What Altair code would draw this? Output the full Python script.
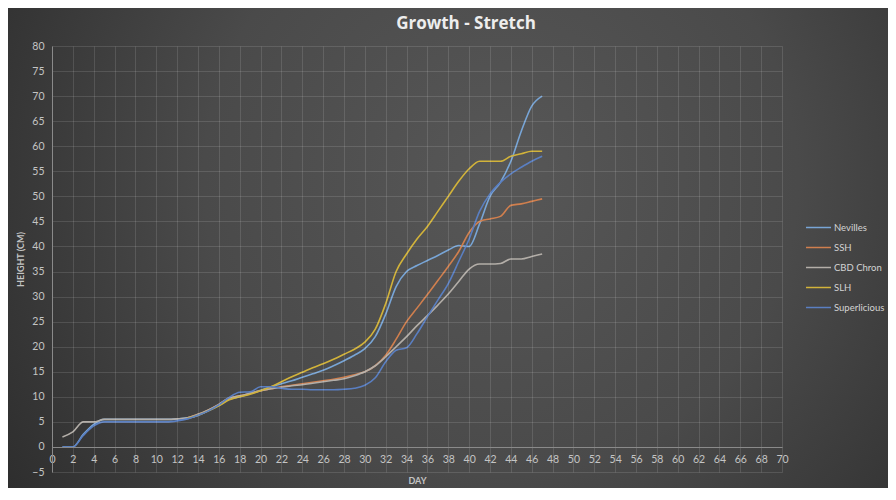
import altair as alt
import pandas as pd

days = list(range(1, 48))
series_names = ["Nevilles", "SSH", "CBD Chron", "SLH", "Superlicious"]
series_colors = ["#78a5d6", "#d07f4e", "#b3aea8", "#d2b33a", "#5a7fc2"]

nevilles = [0, 0, 2.5, 4.5, 5.5, 5.5, 5.5, 5.5, 5.5, 5.5, 5.5, 5.6,
            5.8, 6.3, 7.2, 8.3, 9.5, 10.0, 10.7, 11.3,
            12.0, 12.6, 13.2, 13.9, 14.6, 15.3, 16.2, 17.2, 18.3, 19.6,
            22.0, 26.5, 32.0, 35.0, 36.2, 37.2, 38.2, 39.3, 40.2, 40.0,
            44.5, 50.0, 52.8, 57.0, 63.0, 68.0, 70.0]
ssh = [None] * 12 + [5.8, 6.5, 7.4, 8.5, 9.8, 10.2, 10.7, 11.2,
                     11.6, 12.0, 12.3, 12.6, 12.9, 13.2, 13.5, 13.9, 14.4, 15.0,
                     16.2, 18.3, 21.5, 25.0, 27.7, 30.4, 33.2, 36.0, 39.0, 42.8,
                     45.0, 45.5, 46.0, 48.2, 48.5, 49.0, 49.5]
cbd_chron = [2.0, 3.0, 5.0, 5.0, 5.5, 5.5, 5.5, 5.5, 5.5, 5.5, 5.5, 5.6,
             5.8, 6.5, 7.4, 8.5, 9.8, 10.2, 10.7, 11.2,
             11.6, 11.9, 12.2, 12.4, 12.7, 13.0, 13.3, 13.6, 14.2, 15.0,
             16.2, 18.0, 20.0, 22.0, 24.2, 26.2, 28.3, 30.5, 33.0, 35.5,
             36.5, 36.5, 36.6, 37.5, 37.5, 38.0, 38.5]
slh = [None] * 12 + [5.7, 6.3, 7.2, 8.2, 9.4, 10.0, 10.5, 11.2,
                     12.0, 13.0, 14.0, 14.9, 15.8, 16.6, 17.5, 18.5, 19.5, 20.9,
                     23.5, 28.6, 35.0, 38.5, 41.5, 44.0, 47.0, 50.0, 53.0, 55.5,
                     57.0, 57.0, 57.0, 58.0, 58.5, 59.0, 59.0]
superlicious = [0, 0, 2.3, 4.2, 5.0, 5.0, 5.0, 5.0, 5.0, 5.0, 5.0, 5.2,
                5.6, 6.3, 7.2, 8.4, 9.9, 10.9, 11.0, 12.0,
                12.0, 11.7, 11.5, 11.5, 11.4, 11.4, 11.4, 11.5, 11.7, 12.3,
                13.8, 17.0, 19.3, 19.8, 22.6, 26.0, 29.3, 32.6, 37.0, 41.5,
                47.0, 50.5, 52.8, 54.5, 55.8, 57.0, 58.0]

x_ticks = list(range(0, 71, 2))
y_ticks = list(range(-5, 81, 5))

rows = []
for order, (name, vals) in enumerate(zip(series_names, [nevilles, ssh, cbd_chron, slh, superlicious])):
    for d, v in zip(days, vals):
        if v is not None:
            rows.append({"Day": d, "Height": v, "Series": name, "order": order})
df = pd.DataFrame(rows)

bg_gradient = {
    "gradient": "radial",
    "x1": 0.56, "y1": 0.42, "r1": 0,
    "x2": 0.56, "y2": 0.42, "r2": 0.75,
    "stops": [
        {"offset": 0, "color": "#575757"},
        {"offset": 0.45, "color": "#4a4a4a"},
        {"offset": 1, "color": "#262626"},
    ],
}

bg = alt.Chart(pd.DataFrame({"k": [0]})).mark_rect(fill=bg_gradient).encode(
    x=alt.value(-44), x2=alt.value(836), y=alt.value(-38), y2=alt.value(446)
)

lines = alt.Chart(df).mark_line(interpolate="monotone", strokeWidth=1.6).encode(
    x=alt.X("Day:Q", scale=alt.Scale(domain=[0, 70], nice=False),
            axis=alt.Axis(values=x_ticks, title="DAY", offset=-25, titlePadding=12,
                          labelPadding=7, zindex=1, grid=True, labelFlush=False)),
    y=alt.Y("Height:Q", scale=alt.Scale(domain=[-5, 80], nice=False),
            axis=alt.Axis(values=y_ticks, title="HEIGHT (CM)", labelPadding=8,
                          titlePadding=6, zindex=1, grid=True, labelFlush=False)),
    color=alt.Color("Series:N", scale=alt.Scale(domain=series_names, range=series_colors),
                    legend=alt.Legend(title=None, orient="none", legendX=753, legendY=168,
                                      symbolType="stroke", symbolSize=625,
                                      symbolStrokeWidth=1.5, labelColor="#d4d4d4",
                                      labelFontSize=9.5, labelOffset=2, rowPadding=2)),
    order=alt.Order("order:Q"),
)

chart = alt.layer(bg, lines).properties(
    width=730,
    height=426,
    autosize=alt.AutoSizeParams(type="none"),
    padding={"left": 44, "top": 38, "right": 106, "bottom": 16},
    title=alt.TitleParams("Growth - Stretch", fontSize=17, fontWeight="bold",
                          color="#ededed", font="Open Sans", dx=49, offset=-33,
                          frame="group", anchor="middle", baseline="middle"),
).configure(
    background="#333333",
    font="Lato",
).configure_view(
    stroke=None,
).configure_axis(
    gridColor="#ffffff",
    gridOpacity=0.12,
    domainColor="#8a8a8a",
    ticks=False,
    labelColor="#c4c4c4",
    labelFontSize=10.5,
    titleColor="#c4c4c4",
    titleFontSize=9,
    titleFontWeight="bold",
)

chart.save("out.html", embed_options={"renderer": "svg", "actions": False})
